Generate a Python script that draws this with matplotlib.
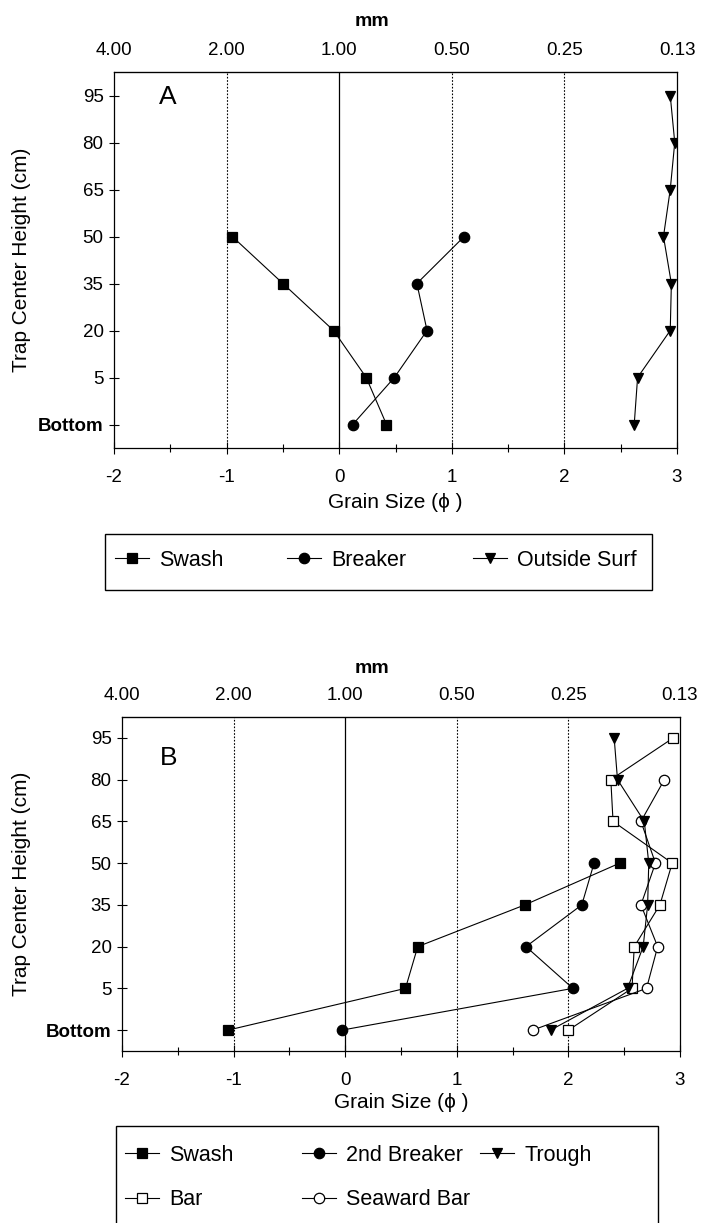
import numpy as np
import matplotlib
matplotlib.use("Agg")
import matplotlib.pyplot as plt
from matplotlib.patches import Rectangle

plt.rcParams['font.family'] = ['Liberation Sans', 'DejaVu Sans']
plt.rcParams['axes.unicode_minus'] = False

nan = np.nan

# trap heights (category axis, bottom to top) and top-axis grain size in mm
heights = ["Bottom", "5", "20", "35", "50", "65", "80", "95"]
phi_ticks = [-2, -1, 0, 1, 2, 3]
mm_labels = ["4.00", "2.00", "1.00", "0.50", "0.25", "0.13"]

# panel A, grain size in phi for each height (Bottom ... 95)
a_swash = [0.42, 0.24, -0.05, -0.50, -0.95, nan, nan, nan]
a_breaker = [0.12, 0.49, 0.78, 0.69, 1.11, nan, nan, nan]
a_outside = [2.62, 2.65, 2.94, 2.95, 2.88, 2.94, 2.98, 2.94]

# panel B
b_swash = [-1.05, 0.54, 0.65, 1.61, 2.46, nan, nan, nan]
b_breaker = [-0.03, 2.04, 1.62, 2.12, 2.23, nan, nan, nan]
b_trough = [1.84, 2.53, 2.67, 2.71, 2.72, 2.68, 2.44, 2.41]
b_bar = [2.00, 2.57, 2.59, 2.82, 2.93, 2.40, 2.38, 2.94]
b_seaward = [1.68, 2.70, 2.80, 2.65, 2.78, 2.65, 2.86, nan]

W, H = 701, 1223
fig = plt.figure(figsize=(W / 100, H / 100), dpi=100)

ypos = np.arange(len(heights))


def series(ax, vals, marker, label, filled=True, z=3):
    vals = np.array(vals)
    ok = ~np.isnan(vals)
    line, = ax.plot(vals[ok], ypos[ok], color='k', lw=0.8, marker=marker, ms=7.5,
                    mfc='k' if filled else 'white', mec='k', mew=0.9, label=label, zorder=z)
    return line


def setup(ax, letter, lx, ly):
    ax.set_xlim(-2, 3)
    ax.set_ylim(-0.5, 7.5)
    ax.set_xticks(phi_ticks)
    ax.set_xticks(np.arange(-1.5, 3, 1), minor=True)
    ax.set_yticks(ypos)
    ax.set_yticklabels(heights)
    for t in ax.get_yticklabels():
        if t.get_text() == "Bottom":
            t.set_fontsize(11.5)
            t.set_fontweight('bold')
    ax.tick_params(axis='x', which='major', direction='inout', length=8.5, width=0.8,
                   labelsize=13.5, pad=11)
    ax.tick_params(axis='x', which='minor', direction='inout', length=6, width=0.8)
    ax.tick_params(axis='y', direction='inout', length=7, width=0.8, labelsize=13.5, pad=4)
    for s in ax.spines.values():
        s.set_linewidth(0.9)
    for x in [-1, 1, 2]:
        ax.axvline(x, color='k', lw=0.8, ls=(0, (1.5, 1.5)), zorder=1)
    ax.axvline(0, color='k', lw=0.9, zorder=1)
    sec = ax.secondary_xaxis('top')
    sec.set_xticks(phi_ticks, labels=mm_labels)
    sec.tick_params(length=0, labelsize=13.5, pad=9)
    ax.text(lx, ly, letter, transform=ax.transAxes, fontsize=19, ha='center', va='center')


def legend_box(cols, xs, row_top, box):
    for hs, x in zip(cols, xs):
        fig.legend(handles=hs, loc='upper left', bbox_to_anchor=(x / W, 1 - row_top / H),
                   frameon=False, fontsize=15.5, handlelength=1.6, handletextpad=0.45,
                   labelspacing=1.08, borderpad=0, borderaxespad=0)
    x0, y0, x1, y1 = box
    fig.add_artist(Rectangle((x0 / W, 1 - y1 / H), (x1 - x0) / W, (y1 - y0) / H,
                             transform=fig.transFigure, fill=False, ec='k', lw=1))


# ---- panel A
axA = fig.add_axes([114 / W, 1 - 448 / H, 563 / W, 376 / H])
setup(axA, "A", 0.096, 0.933)
la1 = series(axA, a_swash, 's', "Swash")
la2 = series(axA, a_breaker, 'o', "Breaker")
la3 = series(axA, a_outside, 'v', "Outside Surf")

fig.text(372 / W, 1 - 21 / H, "mm", fontsize=14, fontweight='bold', ha='center', va='center')
fig.text(395 / W, 1 - 502 / H, "Grain Size (\u03d5 )", fontsize=15, ha='center', va='center')
fig.text(22 / W, 1 - 260 / H, "Trap Center Height (cm)", fontsize=15, rotation=90,
         ha='center', va='center')
legend_box([[la1], [la2], [la3]], [115, 287, 473], 550, (105, 534, 652, 590))

# ---- panel B
axB = fig.add_axes([122 / W, 1 - 1051 / H, 558 / W, 334 / H])
setup(axB, "B", 0.084, 0.877)
lb1 = series(axB, b_swash, 's', "Swash")
lb2 = series(axB, b_breaker, 'o', "2nd Breaker")
lb4 = series(axB, b_bar, 's', "Bar", filled=False)
lb5 = series(axB, b_seaward, 'o', "Seaward Bar", filled=False)
lb3 = series(axB, b_trough, 'v', "Trough", z=4)

fig.text(372 / W, 1 - 668 / H, "mm", fontsize=14, fontweight='bold', ha='center', va='center')
fig.text(401 / W, 1 - 1103 / H, "Grain Size (\u03d5 )", fontsize=15, ha='center', va='center')
fig.text(22 / W, 1 - 884 / H, "Trap Center Height (cm)", fontsize=15, rotation=90,
         ha='center', va='center')
legend_box([[lb1, lb4], [lb2, lb5], [lb3]], [125, 302, 480], 1145, (116, 1126, 658, 1240))

fig.savefig("out.png", dpi=100)
